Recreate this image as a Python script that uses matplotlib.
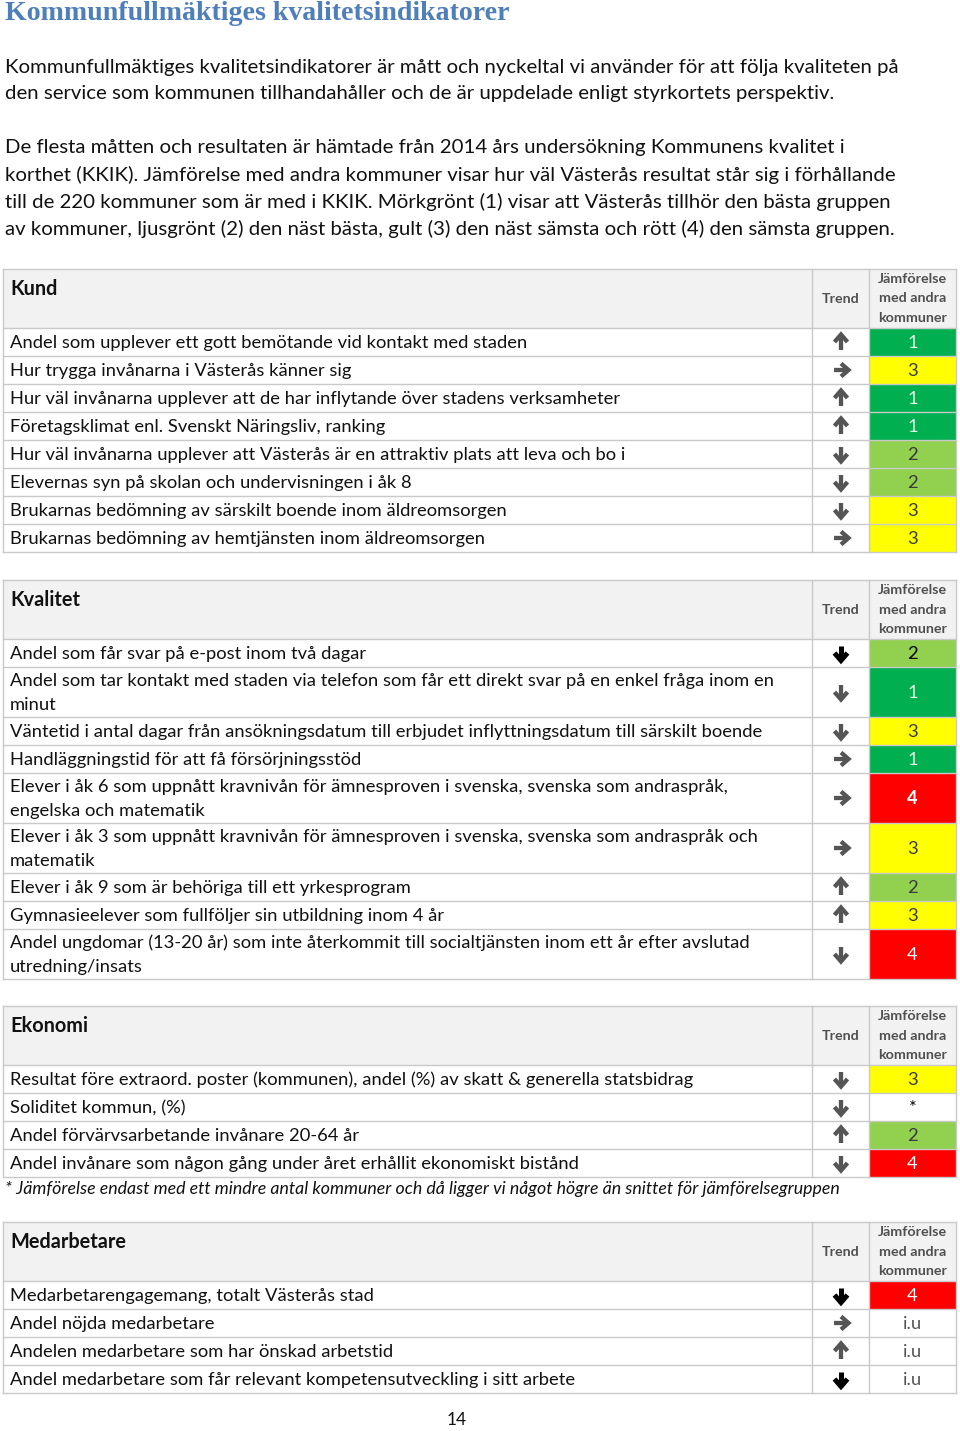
import matplotlib.pyplot as plt
import numpy as np

plt.rcParams['font.family'] = ['Lato', 'DejaVu Sans']

title = "Kommunfullmäktiges kvalitetsindikatorer"
intro_lines = [
    "Kommunfullmäktiges kvalitetsindikatorer är mått och nyckeltal vi använder för att följa kvaliteten på",
    "den service som kommunen tillhandahåller och de är uppdelade enligt styrkortets perspektiv.",
    "",
    "De flesta måtten och resultaten är hämtade från 2014 års undersökning Kommunens kvalitet i",
    "korthet (KKIK). Jämförelse med andra kommuner visar hur väl Västerås resultat står sig i förhållande",
    "till de 220 kommuner som är med i KKIK. Mörkgrönt (1) visar att Västerås tillhör den bästa gruppen",
    "av kommuner, ljusgrönt (2) den näst bästa, gult (3) den näst sämsta och rött (4) den sämsta gruppen.",
]

kund_labels = [
    "Andel som upplever ett gott bemötande vid kontakt med staden",
    "Hur trygga invånarna i Västerås känner sig",
    "Hur väl invånarna upplever att de har inflytande över stadens verksamheter",
    "Företagsklimat enl. Svenskt Näringsliv, ranking",
    "Hur väl invånarna upplever att Västerås är en attraktiv plats att leva och bo i",
    "Elevernas syn på skolan och undervisningen i åk 8",
    "Brukarnas bedömning av särskilt boende inom äldreomsorgen",
    "Brukarnas bedömning av hemtjänsten inom äldreomsorgen",
]
kund_trend = ["up", "right", "up", "up", "down", "down", "down", "right"]
kund_values = ["1", "3", "1", "1", "2", "2", "3", "3"]

kvalitet_labels = [
    "Andel som får svar på e-post inom två dagar",
    "Andel som tar kontakt med staden via telefon som får ett direkt svar på en enkel fråga inom en\nminut",
    "Väntetid i antal dagar från ansökningsdatum till erbjudet inflyttningsdatum till särskilt boende",
    "Handläggningstid för att få försörjningsstöd",
    "Elever i åk 6 som uppnått kravnivån för ämnesproven i svenska, svenska som andraspråk,\nengelska och matematik",
    "Elever i åk 3 som uppnått kravnivån för ämnesproven i svenska, svenska som andraspråk och\nmatematik",
    "Elever i åk 9 som är behöriga till ett yrkesprogram",
    "Gymnasieelever som fullföljer sin utbildning inom 4 år",
    "Andel ungdomar (13-20 år) som inte återkommit till socialtjänsten inom ett år efter avslutad\nutredning/insats",
]
kvalitet_trend = ["down", "down", "down", "right", "right", "right", "up", "up", "down"]
kvalitet_values = ["2", "1", "3", "1", "4", "3", "2", "3", "4"]

ekonomi_labels = [
    "Resultat före extraord. poster (kommunen), andel (%) av skatt & generella statsbidrag",
    "Soliditet kommun, (%)",
    "Andel förvärvsarbetande invånare 20-64 år",
    "Andel invånare som någon gång under året erhållit ekonomiskt bistånd",
]
ekonomi_trend = ["down", "down", "up", "down"]
ekonomi_values = ["3", "*", "2", "4"]

medarbetare_labels = [
    "Medarbetarengagemang, totalt Västerås stad",
    "Andel nöjda medarbetare",
    "Andelen medarbetare som har önskad arbetstid",
    "Andel medarbetare som får relevant kompetensutveckling i sitt arbete",
]
medarbetare_trend = ["down", "right", "up", "down"]
medarbetare_values = ["4", "i.u", "i.u", "i.u"]

# rows whose arrow is drawn black and heavier in the original
strong = {("Kvalitet", 0), ("Medarbetare", 0), ("Medarbetare", 3)}

footnote = "* Jämförelse endast med ett mindre antal kommuner och då ligger vi något högre än snittet för jämförelsegruppen"

fill = {"1": "#00B050", "2": "#92D050", "3": "#FFFF00", "4": "#FF0000"}
num_color = {"1": "#E8F5E8", "2": "#3A3A3A", "3": "#3A3A3A", "4": "#FFFFFF"}

fig = plt.figure(figsize=(9.6, 14.31), dpi=100)
ax = fig.add_axes([0, 0, 1, 1])
ax.set_xlim(0, 960)
ax.set_ylim(1431, 0)
ax.axis('off')

TXT = '#111111'
GRID = '#C9C9C9'
x0, x1, x2, x3 = 3, 812, 869, 956
FS = 13.2

ax.text(5, 13, title, fontsize=20.1, fontweight='bold', color='#4F7FBA',
        family=['Liberation Serif'], va='center', ha='left')

y = 67
for line in intro_lines:
    if line:
        ax.text(5, y, line, fontsize=14.7, color=TXT, va='center', ha='left')
    y += 27


def arrow(cx, cy, d, color, lw):
    s = 6.5
    if d == "up":
        shaft = ([cx, cx], [cy + s + 1, cy - s])
        head = ([cx - s, cx, cx + s], [cy, cy - s - 1, cy])
    elif d == "down":
        shaft = ([cx, cx], [cy - s - 1, cy + s])
        head = ([cx - s, cx, cx + s], [cy, cy + s + 1, cy])
    else:
        shaft = ([cx - s - 1, cx + s], [cy, cy])
        head = ([cx, cx + s + 1, cx], [cy - s, cy, cy + s])
    ax.plot(*shaft, color=color, lw=lw, solid_capstyle='butt')
    ax.plot(*head, color=color, lw=lw, solid_joinstyle='miter', solid_capstyle='butt')


def table(name, top, labels, trends, values):
    hh = 59
    ax.add_patch(plt.Rectangle((x0, top), x3 - x0, hh, facecolor='#F2F2F2',
                               edgecolor='none'))
    ax.text(10, top + 20, name, fontsize=14.3, fontweight='bold', color=TXT,
            va='center', ha='left')
    ax.text((x1 + x2) / 2, top + 30, "Trend", fontsize=10.3, fontweight='bold',
            color='#505050', va='center', ha='center')
    for k, w in enumerate(["Jämförelse", "med andra", "kommuner"]):
        ax.text((x2 + x3) / 2, top + 10 + 19.5 * k, w, fontsize=10.3,
                fontweight='bold', color='#505050', va='center', ha='center')
    ys = [top, top + hh]
    for i, (lab, tr, val) in enumerate(zip(labels, trends, values)):
        h = 50 if "\n" in lab else 28
        y0 = ys[-1]
        cy = y0 + h / 2
        ys.append(y0 + h)
        if val in fill:
            ax.add_patch(plt.Rectangle((x2, y0), x3 - x2, h,
                                       facecolor=fill[val], edgecolor='none'))
        parts = lab.split("\n")
        for j, p in enumerate(parts):
            ax.text(10, cy + (j - (len(parts) - 1) / 2) * 24.5 + 1, p,
                    fontsize=FS, color=TXT, va='center', ha='left')
        st = (name, i) in strong
        arrow(841, cy, tr, 'black' if st else '#555555', 3.6 if st else 3.1)
        bold = (name == "Kvalitet" and val == "4" and i == 4)
        if val in fill:
            c = num_color[val]
            if name == "Kvalitet" and i == 0:
                c = 'black'
        elif val == "*":
            c = 'black'
        else:
            c = '#555555'
        ax.text((x2 + x3) / 2, cy + 1, val, fontsize=FS, color=c,
                fontweight='bold' if bold else 'normal', va='center', ha='center')
    bottom = ys[-1]
    for yy in ys:
        ax.plot([x0, x3], [yy, yy], color=GRID, lw=1.0)
    for xx in [x0, x1, x2, x3]:
        ax.plot([xx, xx], [top, bottom], color=GRID, lw=1.0)
    return bottom


table("Kund", 269, kund_labels, kund_trend, kund_values)
table("Kvalitet", 580, kvalitet_labels, kvalitet_trend, kvalitet_values)
b = table("Ekonomi", 1006, ekonomi_labels, ekonomi_trend, ekonomi_values)
ax.text(5, b + 12, footnote, fontsize=12.8, style='italic', color=TXT,
        va='center', ha='left')
table("Medarbetare", 1222, medarbetare_labels, medarbetare_trend, medarbetare_values)

ax.text(457, 1420, "14", fontsize=12.5, color=TXT, va='center', ha='center')

fig.savefig('out.png', dpi=100)
